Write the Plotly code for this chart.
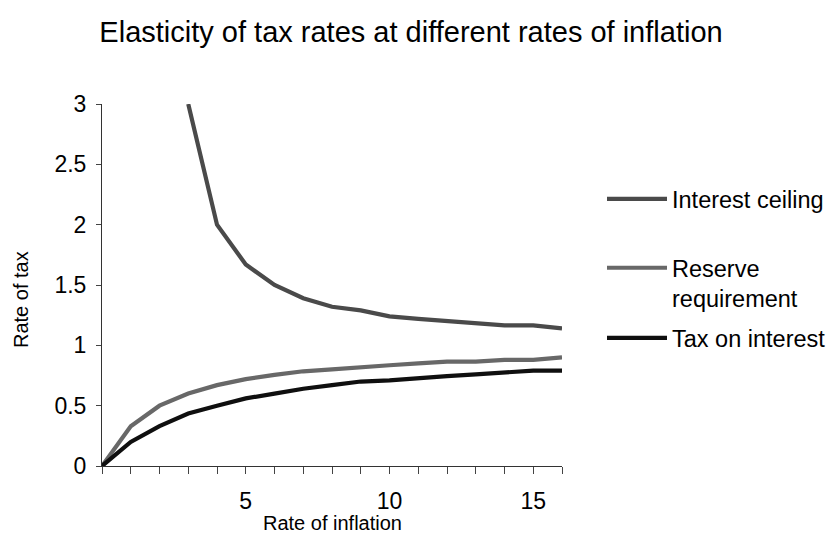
import plotly.graph_objects as go

inflation = list(range(17))
interest_ceiling = [None, None, None, 3.0, 2.0, 1.67, 1.5, 1.39, 1.32, 1.29, 1.24, 1.22, 1.2, 1.18, 1.165, 1.165, 1.14]
reserve_requirement = [0, 0.33, 0.5, 0.6, 0.67, 0.72, 0.755, 0.785, 0.8, 0.82, 0.835, 0.85, 0.865, 0.865, 0.88, 0.88, 0.9]
tax_on_interest = [0, 0.2, 0.33, 0.435, 0.5, 0.56, 0.6, 0.64, 0.67, 0.7, 0.71, 0.73, 0.745, 0.76, 0.775, 0.79, 0.79]

series_names = ["Interest ceiling", "Reserve<br>requirement", "Tax on interest"]
series_colors = ["#4a4a4a", "#686868", "#0f0f0f"]
series_legends = ["legend", "legend2", "legend2"]
x_tick_labels = {5: "5", 10: "10", 15: "15"}
y_ticks = [0, 0.5, 1, 1.5, 2, 2.5, 3]
y_tick_labels = ["0", "0.5", "1", "1.5", "2", "2.5", "3"]

font_family = "Liberation Sans, Arial, sans-serif"

# the page body adds an 8px offset; size the figure so it fills the window exactly
OFF = 8
W, H = 836 - OFF, 558 - OFF
# plot area in window pixels: x 102..562, y 104..466
L, R, T, B = 102 - OFF, 836 - 562, 104 - OFF, 558 - 466

fig = go.Figure()
for name, vals, col, lg in zip(series_names,
                               [interest_ceiling, reserve_requirement, tax_on_interest],
                               series_colors, series_legends):
    fig.add_trace(go.Scatter(x=inflation, y=vals, mode="lines", name=name,
                             legend=lg, legendgroup=name,
                             line=dict(color=col, width=4.2), connectgaps=False))

pw, ph = W - L - R, H - T - B

def px_x(x):
    """window x pixel -> plot-area paper fraction"""
    return (x - OFF - L) / pw

def px_y(y):
    """window y pixel -> plot-area paper fraction"""
    return (H - B - (y - OFF)) / ph

legend_common = dict(xanchor="left", yanchor="top", font=dict(size=23.5, color="#000000"),
                     itemwidth=60, tracegroupgap=6, bgcolor="rgba(0,0,0,0)",
                     valign="top")

fig.update_layout(
    width=W, height=H,
    margin=dict(l=L, r=R, t=T, b=B, autoexpand=False),
    paper_bgcolor="white", plot_bgcolor="white",
    font=dict(family=font_family, size=23, color="#000000"),
    title=dict(text="Elasticity of tax rates at different rates of inflation",
               x=(411 - OFF) / W, xanchor="center", y=1 - (32 - OFF) / H, yanchor="middle",
               font=dict(size=29, color="#000000")),
    showlegend=True,
    legend=dict(x=px_x(602), y=px_y(177), **legend_common),
    legend2=dict(x=px_x(602), y=px_y(246), **legend_common),
    xaxis=dict(range=[0, 16], tickmode="array", tickvals=inflation,
               ticktext=[x_tick_labels.get(v, "") for v in inflation],
               ticks="outside", ticklen=7, tickcolor="#444", tickwidth=1,
               showline=True, linecolor="#333", linewidth=1,
               showgrid=False, zeroline=False, ticklabelstandoff=7,
               automargin=False),
    yaxis=dict(range=[0, 3], tickvals=y_ticks, ticktext=y_tick_labels,
               ticks="outside", ticklen=5, tickcolor="#444", tickwidth=1,
               showline=True, linecolor="#333", linewidth=1,
               showgrid=False, zeroline=False, ticklabelstandoff=5,
               automargin=False),
    annotations=[
        dict(text="Rate of tax", textangle=-90, xref="paper", yref="paper",
             x=px_x(21), y=px_y(300), showarrow=False,
             xanchor="center", yanchor="middle", font=dict(size=20)),
        dict(text="Rate of inflation", xref="paper", yref="paper",
             x=px_x(332), y=px_y(523), showarrow=False,
             xanchor="center", yanchor="middle", font=dict(size=20)),
    ],
)

fig.write_html("out.html")
